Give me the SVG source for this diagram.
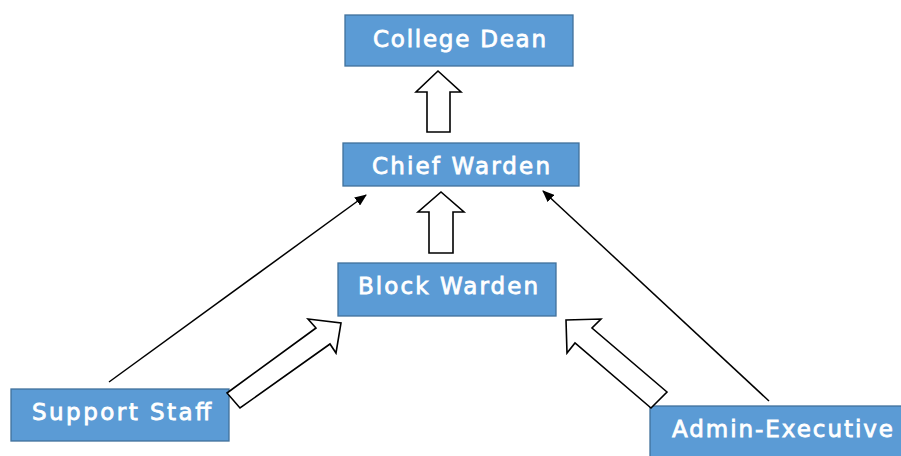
<svg xmlns="http://www.w3.org/2000/svg" width="901" height="456" viewBox="0 0 901 456">
<style>
.box{fill:#5B9BD5;stroke:#41719C;stroke-width:1.3}
.lbl{font-family:"DejaVu Sans",sans-serif;font-weight:normal;font-size:23px;fill:#fff;stroke:#fff;stroke-width:0.8;text-anchor:middle}
.blk{fill:#fff;stroke:#000;stroke-width:1.6;stroke-linejoin:miter}
.thin{stroke:#000;stroke-width:1.5;fill:none}
</style>
<defs>
<marker id="ah" viewBox="0 0 12 10" refX="11" refY="5" markerWidth="12" markerHeight="10" markerUnits="userSpaceOnUse" orient="auto">
<path d="M0,0 L12,5 L0,10 z" fill="#000"/>
</marker>
</defs>
<rect width="901" height="456" fill="#fff"/>
<g id="college-dean"><rect class="box" x="345" y="15" width="228" height="51"/><text class="lbl" x="459.5" y="47" textLength="173" lengthAdjust="spacing">College Dean</text></g>
<g id="chief-warden"><rect class="box" x="343" y="143" width="236" height="43"/><text class="lbl" x="461" y="174" textLength="178" lengthAdjust="spacing">Chief Warden</text></g>
<g id="block-warden"><rect class="box" x="338" y="263" width="218" height="53"/><text class="lbl" x="448" y="294" textLength="180" lengthAdjust="spacing">Block Warden</text></g>
<g id="support-staff"><rect class="box" x="11" y="389" width="218" height="52"/><text class="lbl" x="121.5" y="420" textLength="179" lengthAdjust="spacing">Support Staff</text></g>
<g id="admin-executive"><rect class="box" x="650" y="406" width="264" height="60"/><text class="lbl" x="782.5" y="437" textLength="221" lengthAdjust="spacing">Admin-Executive</text></g>
<g id="connectors">
<polygon class="blk" points="427,132 427,92 416,92 438,71 461,92 450,92 450,132"/>
<polygon class="blk" points="429,253 429,212 418,212 441,192 464,212 453,212 453,253"/>
<polygon class="blk" points="227,393 316,328 308,319 341,323 336,353 330,344 240,408"/>
<polygon class="blk" points="667,392 592,328 601,319 566,320 567,353 575,343 651,408"/>
<line class="thin" x1="109" y1="382" x2="366" y2="195" marker-end="url(#ah)"/>
<line class="thin" x1="769" y1="401" x2="543" y2="191" marker-end="url(#ah)"/>
</g>
</svg>
